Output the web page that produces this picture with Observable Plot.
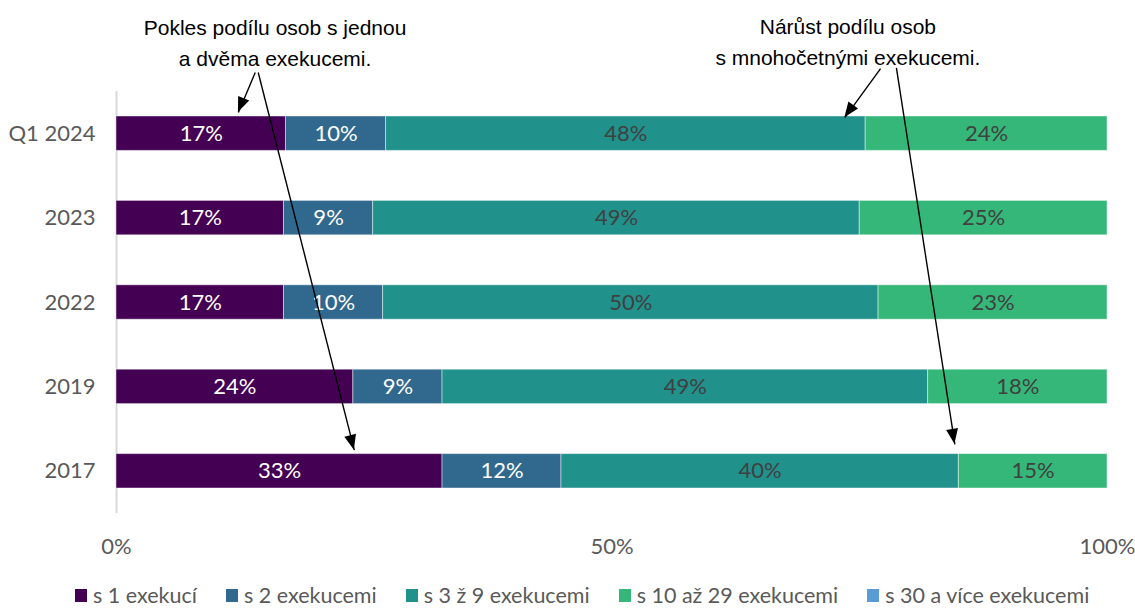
<!DOCTYPE html>
<html>
<head>
<meta charset="utf-8">
<script src="https://cdn.jsdelivr.net/npm/d3@7"></script>
<script src="https://cdn.jsdelivr.net/npm/@observablehq/plot@0.6"></script>
<style>
  html, body { margin: 0; padding: 0; background: white; }
  #wrap { position: relative; width: 1135px; height: 608px; overflow: hidden; }
  #legend { position: absolute; top: 585px; left: 75px; height: 20px; display: flex; align-items: center;
            font-family: Lato, sans-serif; font-size: 21.5px; line-height: 20px; color: #595959; white-space: nowrap; }
  .item { display: flex; align-items: center; margin-right: 29px; }
  .sw { width: 12px; height: 13px; margin-right: 6px; }
</style>
</head>
<body>
<div id="wrap"><div id="chart"></div><div id="legend"></div></div>
<script>
// ---- data ----
const categories = ["Q1 2024", "2023", "2022", "2019", "2017"];
const seriesNames = ["s 1 exekucí", "s 2 exekucemi", "s 3 ž 9 exekucemi", "s 10 až 29 exekucemi", "s 30 a více exekucemi"];
const s1 = [17.1, 16.9, 16.9, 23.9, 32.9];
const s2 = [10.1, 9.0, 10.0, 9.0, 12.0];
const s3to9 = [48.4, 49.1, 50.0, 49.0, 40.1];
const s10to29 = [24.4, 25.0, 23.1, 18.1, 15.0];
const s30plus = [0, 0, 0, 0, 0];
const seriesColors = ["#440154", "#31688e", "#21918c", "#35b779", "#5b9bd5"];
const xTicks = [0, 50, 100];

const annotations = [
  {text: "Pokles podílu osob s jednou\na dvěma exekucemi.", x: 16.0, y: -0.6},
  {text: "Nárůst podílu osob\ns mnohočetnými exekucemi.", x: 73.8, y: -0.62}
];
const arrows = [
  {x1: 14.0, y1: -0.225, x2: 12.3, y2: 0.25},
  {x1: 14.3, y1: -0.225, x2: 24.0, y2: 4.25},
  {x1: 77.1, y1: -0.27, x2: 73.5, y2: 0.31},
  {x1: 78.7, y1: -0.28, x2: 84.6, y2: 4.18}
];

// ---- table ----
const allSeries = [s1, s2, s3to9, s10to29, s30plus];
const rows = [];
categories.forEach((c, i) => {
  allSeries.forEach((vals, k) => {
    rows.push({cat: c, pos: i, series: seriesNames[k], k, value: vals[i]});
  });
});
const shown = rows.filter(d => d.value > 0);

const arrowHeads = (index, scales) => {
  const g = d3.create("svg:g");
  for (const a of arrows) {
    const ox = scales.x(a.x1), oy = scales.y(a.y1);
    const px = scales.x(a.x2), py = scales.y(a.y2);
    const ang = Math.atan2(py - oy, px - ox);
    const L = 15, W = 12;
    const bx = px - L * Math.cos(ang), by = py - L * Math.sin(ang);
    const nx = -Math.sin(ang) * W / 2, ny = Math.cos(ang) * W / 2;
    g.append("path")
      .attr("d", `M${px},${py}L${bx + nx},${by + ny}L${bx - nx},${by - ny}Z`)
      .attr("fill", "black");
  }
  return g.node();
};

const chart = Plot.plot({
  width: 1135,
  height: 580,
  marginLeft: 116,
  marginRight: 28,
  marginTop: 91,
  marginBottom: 67,
  style: {fontFamily: "Lato, sans-serif", fontSize: "22px", color: "#595959", background: "white", overflow: "visible"},
  x: {domain: [0, 100], ticks: xTicks, tickFormat: d => d + "%", tickSize: 0, tickPadding: 25, label: null},
  y: {domain: [0, 5], range: [91, 513], ticks: categories.map((c, i) => i + 0.5),
      tickFormat: v => categories[Math.floor(v)], tickSize: 0, tickPadding: 21, label: null},
  color: {domain: seriesNames, range: seriesColors},
  marks: [
    Plot.ruleX([0], {y1: 0, y2: 5, stroke: "#d9d9d9", strokeWidth: 2}),
    Plot.rectX(shown, {x: "value", y1: d => d.pos, y2: d => d.pos + 1, fill: "series",
      insetTop: 25, insetBottom: 25, stroke: "white", strokeOpacity: 0.45, strokeWidth: 1}),
    Plot.text(shown, Plot.stackX({x: "value", y: d => d.pos + 0.5, z: "series",
      text: d => (d.k < 2 ? Math.round(d.value) + "%" : ""), fill: "white", fontSize: 22})),
    Plot.text(shown, Plot.stackX({x: "value", y: d => d.pos + 0.5, z: "series",
      text: d => (d.k >= 2 ? Math.round(d.value) + "%" : ""), fill: "#404040", fontSize: 22})),
    Plot.link(arrows, {x1: "x1", y1: "y1", x2: "x2", y2: "y2", stroke: "black", strokeWidth: 1.4}),
    arrowHeads,
    Plot.text(annotations, {x: "x", y: "y", text: "text", fill: "black", fontSize: 21,
      fontFamily: "Liberation Sans, Arial, sans-serif", lineHeight: 1.48})
  ]
});
document.getElementById("chart").appendChild(chart);

const legend = d3.select("#legend");
seriesNames.forEach((s, k) => {
  const it = legend.append("div").attr("class", "item");
  it.append("div").attr("class", "sw").style("background", seriesColors[k]);
  it.append("span").text(s);
});
</script>
</body>
</html>
